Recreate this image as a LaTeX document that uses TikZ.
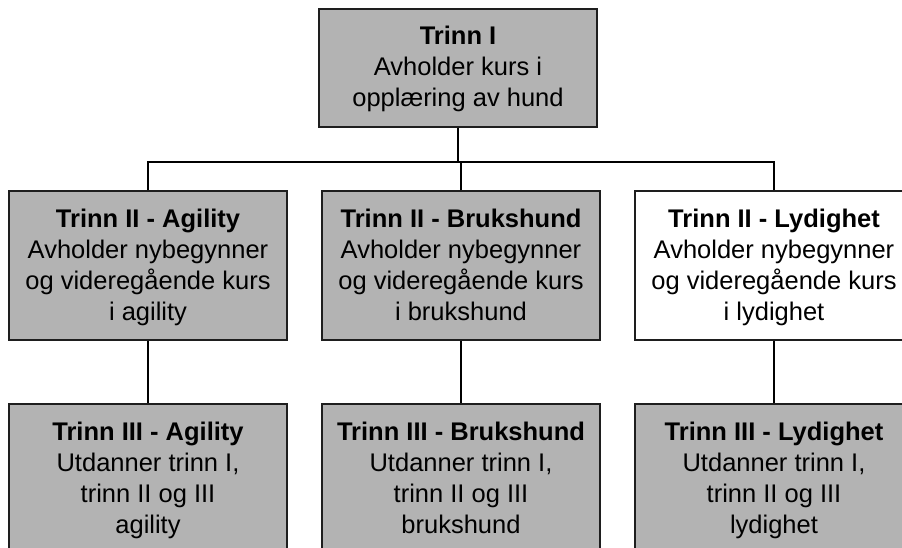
\documentclass[tikz,border=0pt]{standalone}
\usepackage{fontspec}
\setmainfont{Liberation Sans}
\definecolor{boxgray}{RGB}{179,179,179}
\definecolor{boxline}{RGB}{30,30,30}
\newcommand\orgtop{\rule{0pt}{26pt}}
\newcommand\orgbot{\rule[-10pt]{0pt}{10pt}}
\tikzset{
  orgbox/.style={draw=boxline, line width=1.3pt, fill=boxgray, minimum width=278pt, inner sep=0pt, align=center, font=\fontsize{25.5}{31}\selectfont},
  topbox/.style={orgbox, minimum height=118pt},
  midbox/.style={orgbox, minimum height=149pt},
  whitebox/.style={midbox, fill=white},
  conn/.style={draw=black, line width=2pt}
}
\begin{document}
\begin{tikzpicture}[x=1pt,y=-1pt]
\useasboundingbox (0,0) rectangle (902,548);
\clip (0,0) rectangle (902,548);
\fill[white] (0,0) rectangle (902,548);
\node[topbox] (t1) at (458,68) {\orgtop\textbf{Trinn I}\\Avholder kurs i\\opplæring av hund\orgbot};
\node[midbox] (a2) at (148,265.5) {\orgtop\textbf{Trinn II - Agility}\\Avholder nybegynner\\og videregående kurs\\i agility\orgbot};
\node[midbox] (b2) at (461,265.5) {\orgtop\textbf{Trinn II - Brukshund}\\Avholder nybegynner\\og videregående kurs\\i brukshund\orgbot};
\node[whitebox] (l2) at (774,265.5) {\orgtop\textbf{Trinn II - Lydighet}\\Avholder nybegynner\\og videregående kurs\\i lydighet\orgbot};
\node[midbox] (a3) at (148,478.5) {\orgtop\textbf{Trinn III - Agility}\\Utdanner trinn I,\\trinn II og III\\agility\orgbot};
\node[midbox] (b3) at (461,478.5) {\orgtop\textbf{Trinn III - Brukshund}\\Utdanner trinn I,\\trinn II og III\\brukshund\orgbot};
\node[midbox] (l3) at (774,478.5) {\orgtop\textbf{Trinn III - Lydighet}\\Utdanner trinn I,\\trinn II og III\\lydighet\orgbot};
\coordinate (bus) at (458,162);
\draw[conn] (t1.south) -- (bus);
\draw[conn] (a2.north) |- (bus);
\draw[conn] (l2.north) |- (bus);
\draw[conn] (b2.north) -- (b2.north |- bus);
\draw[conn] (a2.south) -- (a3.north);
\draw[conn] (b2.south) -- (b3.north);
\draw[conn] (l2.south) -- (l3.north);
\end{tikzpicture}
\end{document}
